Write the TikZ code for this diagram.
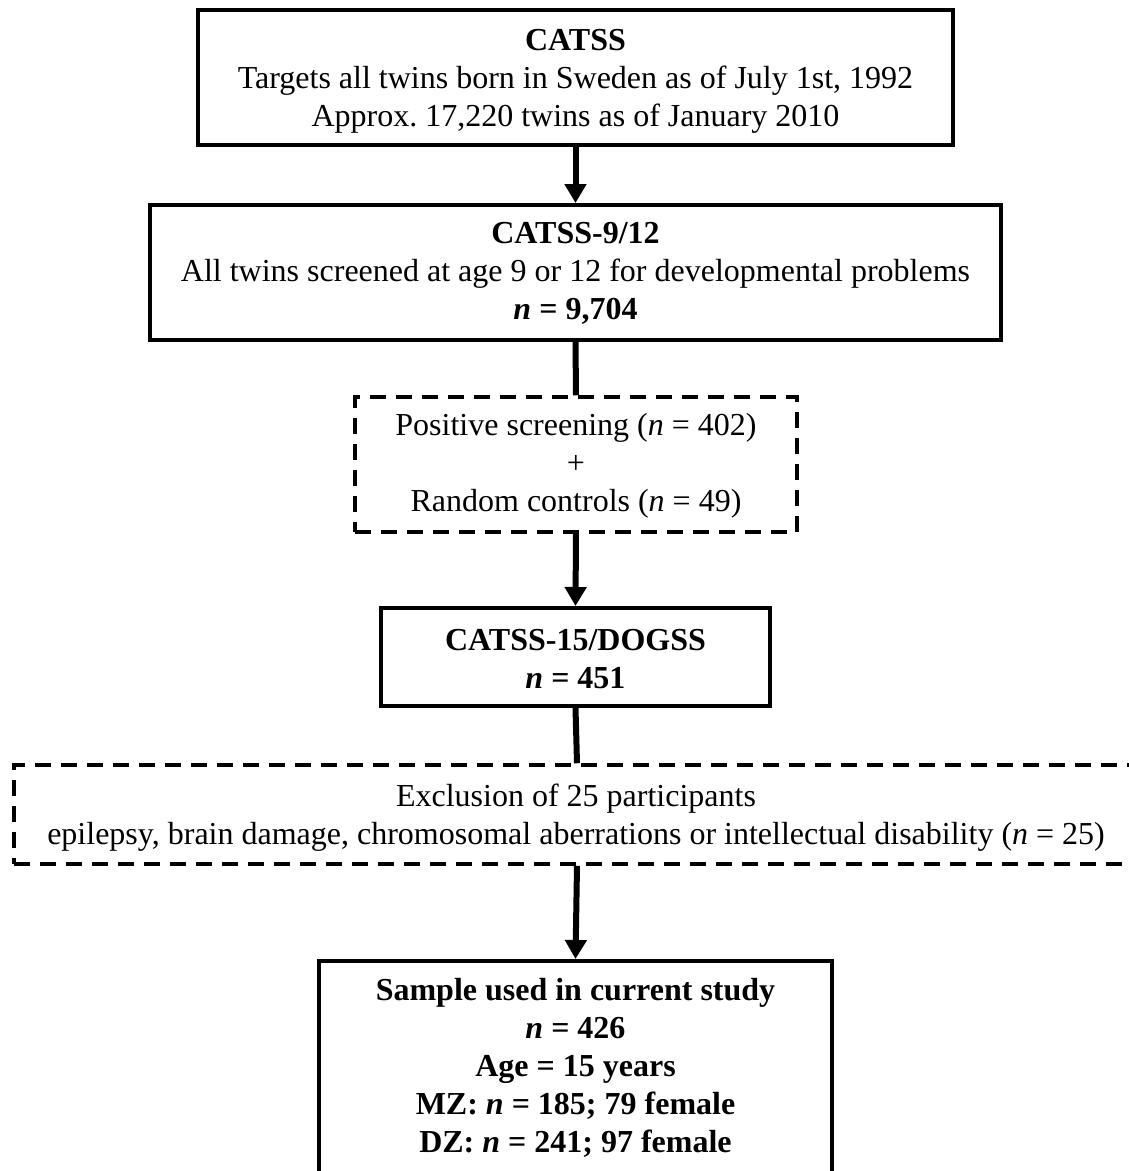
\documentclass[tikz,border=0pt]{standalone}
\usepackage{fontspec}
\setmainfont{Liberation Serif}
\usetikzlibrary{arrows.meta}
\begin{document}
\begin{tikzpicture}[x=1pt,y=-1pt,
  solidbox/.style={draw=black, line width=4pt, inner sep=0pt, align=center},
  dashbox/.style={draw=black, line width=3.5pt, dash pattern=on 16pt off 10pt, inner sep=0pt, align=center},
  conn/.style={line width=6pt, black},
  arr/.style={conn, -{Triangle[width=21pt,length=19pt]}},
  txt/.style={font=\fontsize{32}{38}\selectfont, align=center, inner sep=0pt}
]
\useasboundingbox (0,0) rectangle (1129,1171);
\fill[white] (0,0) rectangle (1129,1171);

\node[solidbox, minimum width=755pt, minimum height=135pt] (b1) at (575.5,77.5) {};
\node[txt] (b1t) at (575.5,81)
  {\textbf{CATSS}\\Targets all twins born in Sweden as of July 1st, 1992\\Approx.\ 17,220 twins as of January 2010};

\node[solidbox, minimum width=851pt, minimum height=135pt] (b2) at (575.5,272.5) {};
\node[txt] (b2t) at (575.5,273)
  {\textbf{CATSS-9/12}\\All twins screened at age 9 or 12 for developmental problems\\\textbf{\textit{n} = 9,704}};

\node[dashbox, minimum width=442pt, minimum height=135pt] (d1) at (576,464.5) {};
\node[txt] (d1t) at (576,466)
  {Positive screening (\textit{n} = 402)\\+\\Random controls (\textit{n} = 49)};

\node[solidbox, minimum width=389pt, minimum height=98pt] (b3) at (575.5,657) {};
\node[txt] (b3t) at (575.5,659)
  {\textbf{CATSS-15/DOGSS}\\\textbf{\textit{n} = 451}};

\node[dashbox, minimum width=1126pt, minimum height=99pt] (d2) at (577,814.5) {};
\node[txt] (d2t) at (576,818)
  {Exclusion of 25 participants\\epilepsy, brain damage, chromosomal aberrations or intellectual disability (\textit{n} = 25)};

\node[solidbox, minimum width=513pt, minimum height=250pt] (b4) at (575.5,1086) {};
\node[txt] (b4t) at (575.5,1068)
  {\textbf{Sample used in current study}\\\textbf{\textit{n} = 426}\\\textbf{Age = 15 years}\\\textbf{MZ: \textit{n} = 185; 79 female}\\\textbf{DZ: \textit{n} = 241; 97 female}};

\draw[arr] (b1.south) -- (b2.north);
\draw[conn] (b2.south) -- (d1.north);
\draw[arr] (d1.south) -- (b3.north);
\draw[conn] (b3.south) -- (d2.north);
\draw[arr] (d2.south) -- (b4.north);
\end{tikzpicture}
\end{document}
